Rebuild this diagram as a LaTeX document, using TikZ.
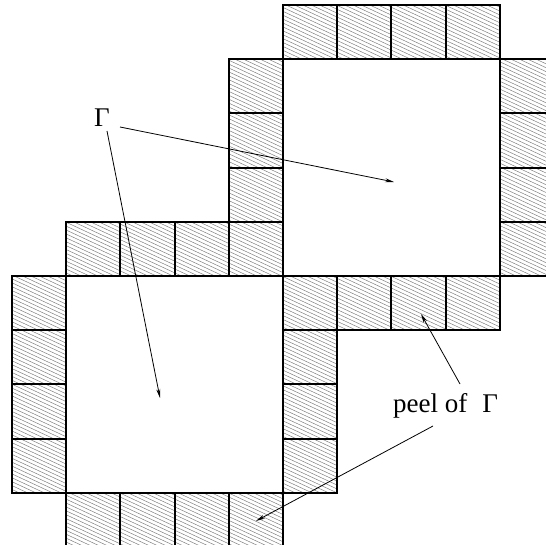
\documentclass[tikz,border=0pt]{standalone}
\usepackage{fontspec}
\setmainfont{Liberation Serif}
\usetikzlibrary{arrows.meta}
\begin{document}
\begin{tikzpicture}[x=1pt,y=-1pt,
  cellb/.style={draw=black,line width=2.1pt},
  hatch/.style={draw=black!50,line width=0.5pt},
  arr/.style={-{Stealth[length=9pt,width=4pt]},line width=0.8pt},
  lbl/.style={font=\fontsize{27}{30}\selectfont,inner sep=0pt}]
\useasboundingbox (0,0) rectangle (546,545);
\clip (0,0) rectangle (546,545);
\def\cells{0/5,0/6,0/7,0/8,1/4,2/4,3/4,4/4,1/9,2/9,3/9,4/9,5/5,5/6,5/7,5/8,
  5/0,6/0,7/0,8/0,4/1,4/2,4/3,9/1,9/2,9/3,9/4,6/5,7/5,8/5}
% hatching
\begin{scope}
  \clip \foreach \i/\j in \cells {(12+54.2*\i,5+54.2*\j) rectangle ++(54.2,54.2)};
  \foreach \c in {-300,-296.1,...,560} \draw[hatch] (0,\c) -- (546,\c+254.6);
\end{scope}
% cell borders
\foreach \i/\j in \cells \draw[cellb] (12+54.2*\i,5+54.2*\j) rectangle ++(54.2,54.2);
% labels
\node[lbl,anchor=base] (g) at (102,127) {Γ};
\node[lbl,anchor=base west] (peel) at (393,412) {peel of\hspace{15pt}Γ};
% arrow ends
\coordinate (g1) at (120,127);
\coordinate (g2) at (107,131);
\coordinate (t1) at (394,182);
\coordinate (t2) at (160,398);
\coordinate (p1) at (460,384);
\coordinate (t3) at (421,314);
\coordinate (p2) at (433,426);
\coordinate (t4) at (256,521);
\draw[arr] (g1) -- (t1);
\draw[arr] (g2) -- (t2);
\draw[arr] (p1) -- (t3);
\draw[arr] (p2) -- (t4);
\end{tikzpicture}
\end{document}
